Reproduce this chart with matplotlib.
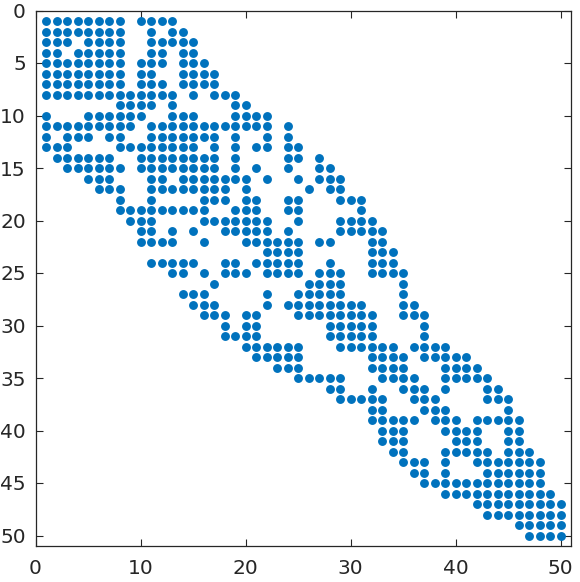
import matplotlib
matplotlib.use("Agg")
import matplotlib.pyplot as plt

# Sparsity pattern: nonzero column indices for each row (1-based), rows 1..50
row_patterns = [
    "1-8,10-13",
    "1-8,11,13,14",
    "1-3,5-8,11-15",
    "1,2,4-8,11,12,14,15",
    "1-8,10-12,14-16",
    "1-8,10,11,14-17",
    "1-8,10-12,14-17",
    "1-13,15,17-19",
    "8-11,13,19,20",
    "1,5-10,13-15,19-22",
    "1-9,11-22,24",
    "1,3-5,7,8,11-17,19,22,24",
    "1-3,8-15,17,19,21,22,24,25",
    "2-7,10-17,19,24,25,27",
    "3-8,10-17,19,21,24,27,28",
    "5-7,11,12,14-20,22,25,27-29",
    "6-8,11-18,20,26,28,29",
    "8,11,16-18,20,21,24,25,29-31",
    "8-16,19-21,24,25,31",
    "9-11,16-22,25,29-32",
    "10,11,13,15,18-22,24,29-33",
    "10-13,16,20-25,27,28,32,33",
    "22-25,32-34",
    "11-15,18,19,21-25,28,32-34",
    "13,14,16,18-20,22-25,27-29,32-35",
    "17,26-29,35",
    "14-16,22,25-29,35",
    "15-17,22,24-31,35,36",
    "16-18,20,21,25-32,35-37",
    "18,20,21,28-32,37",
    "18-21,28-32,37",
    "20-25,29-34,36-39",
    "21-25,32-35,37-41",
    "23-25,32-35,39-42",
    "25-29,33-36,39-43",
    "28,29,32,35-37,39,43,44",
    "29-33,36-38,43-45",
    "32,33,37-39,45",
    "32-36,38-40,42-46",
    "33-35,39-42,45,46",
    "33-35,40-42,45,46",
    "34,35,39-43,45-47",
    "35-37,39,42-48",
    "36,37,39,43-48",
    "37-48",
    "39-49",
    "42-50",
    "43-50",
    "46-50",
    "47-50",
]

x_ticks = [0, 10, 20, 30, 40, 50]
y_ticks = [0, 5, 10, 15, 20, 25, 30, 35, 40, 45, 50]


def parse(spec):
    out = []
    for part in spec.split(","):
        if "-" in part:
            a, b = part.split("-")
            out.extend(range(int(a), int(b) + 1))
        else:
            out.append(int(part))
    return out


rows, cols = [], []
for r, spec in enumerate(row_patterns, start=1):
    for c in parse(spec):
        rows.append(r)
        cols.append(c)

n = len(row_patterns)

fig = plt.figure(figsize=(5.8, 5.82), dpi=100)
ax = fig.add_axes([35.5 / 580, 36 / 582, 535.5 / 580, 535.5 / 582])
ax.plot(cols, rows, linestyle="none", marker="o", markersize=6.4,
        markeredgewidth=0, color="#0072BD")
ax.set_xlim(0, n + 1)
ax.set_ylim(n + 1, 0)
ax.set_xticks(x_ticks)
ax.set_yticks(y_ticks)
ax.tick_params(direction="in", length=5, width=0.8, colors="#262626",
               labelsize=14.5, top=True, right=True)
ax.tick_params(axis="x", pad=9)
ax.tick_params(axis="y", pad=7)
for s in ax.spines.values():
    s.set_linewidth(0.9)
    s.set_color("#262626")

fig.savefig("out.png", dpi=100)
